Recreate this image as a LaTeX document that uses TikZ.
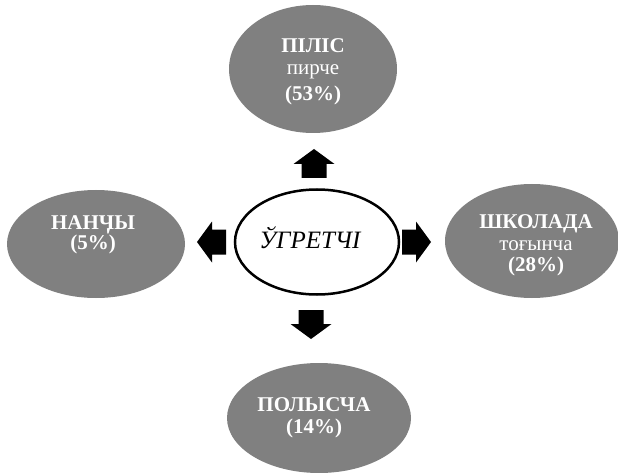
\documentclass[tikz,border=0pt]{standalone}
\usepackage{fontspec}
\setmainfont{Liberation Serif}
\usetikzlibrary{shapes.geometric}
\definecolor{bubblegray}{RGB}{128,128,128}
\begin{document}
\begin{tikzpicture}[x=1pt,y=-1pt,
  bubble/.style={ellipse, fill=bubblegray, inner sep=0pt},
  bubbletext/.style={text=white, align=center, inner sep=0pt,
    font=\fontsize{21}{22}\selectfont\bfseries},
  hub/.style={ellipse, draw=black, line width=2.5pt, fill=white, inner sep=0pt},
  hubtext/.style={inner sep=0pt, font=\fontsize{25}{28}\selectfont\itshape},
  blockarrow/.pic={\fill[black] (0,-12.5) -- (14,-12.5) -- (14,-20.5) -- (29,0) -- (14,20.5) -- (14,12.5) -- (0,12.5) -- cycle;}]
\useasboundingbox[fill=white] (0,0) rectangle (618,473);
\node[hub, minimum width=164pt, minimum height=105pt] (hub) at (317,242) {};
\node[hubtext] (hubT) at ([xshift=-7pt,yshift=4pt]hub.center) {ЎГРЕТЧІ};
\node[bubble, minimum width=168pt, minimum height=128pt] (pilis) at (313,69) {};
\node[bubbletext] (pilisT) at ([yshift=-3pt]pilis.center)
  {ПІЛІС\\{\mdseries пирче}\\[4pt](53\%)};
\node[bubble, minimum width=174pt, minimum height=114pt] (shkola) at (532,241) {};
\node[bubbletext] (shkolaT) at ([xshift=4pt,yshift=-4pt]shkola.center)
  {ШКОЛАДА\\{\mdseries тоғынча}\\[-1pt](28\%)};
\node[bubble, minimum width=178pt, minimum height=108pt] (nanchy) at (96,244) {};
\node[bubbletext] (nanchyT) at ([xshift=-3pt,yshift=9pt]nanchy.center)
  {НАНӋЫ\\[-2pt](5\%)};
\node[bubble, minimum width=184pt, minimum height=110pt] (polyscha) at (319,418) {};
\node[bubbletext] (polyschaT) at ([xshift=-5pt]polyscha.center)
  {ПОЛЫСЧА\\(14\%)};
\pic[rotate=90] at (314,178) {blockarrow};
\pic[rotate=-90] at (311,310) {blockarrow};
\pic[rotate=180] at (226,242) {blockarrow};
\pic at (402,242) {blockarrow};
\end{tikzpicture}
\end{document}
